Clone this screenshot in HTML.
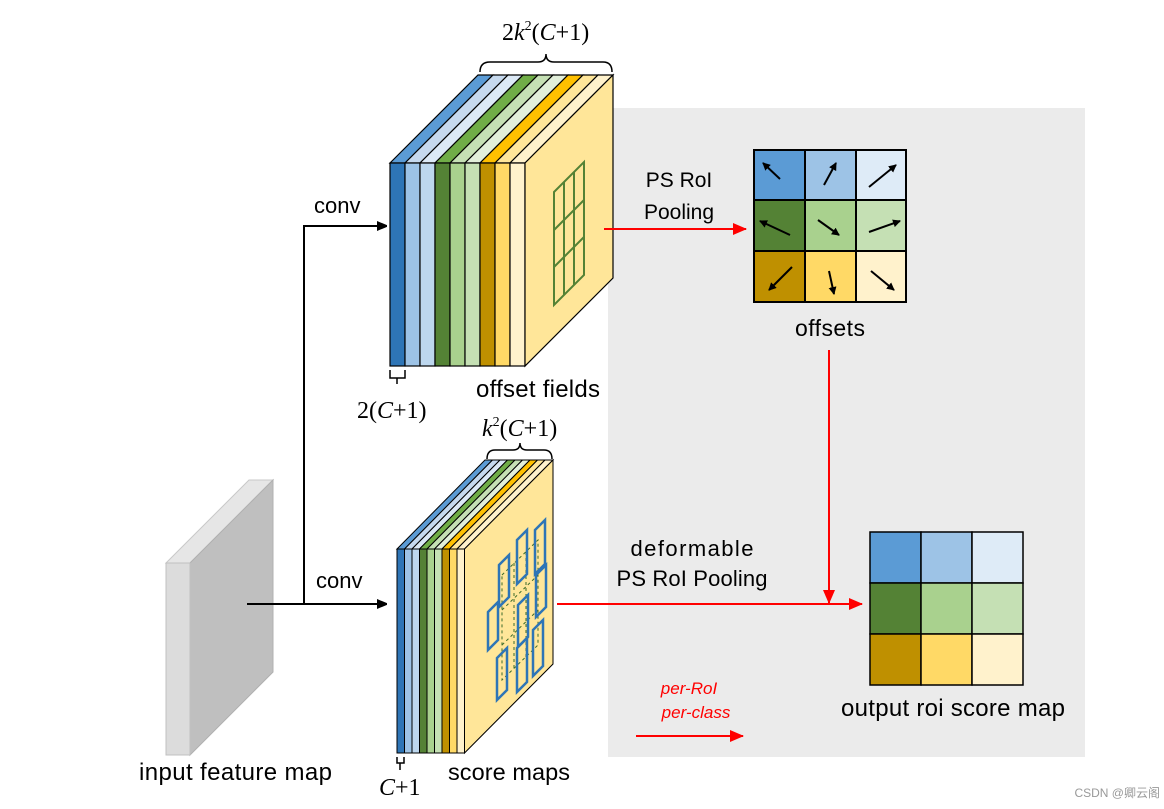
<!DOCTYPE html>
<html><head><meta charset="utf-8"><style>
html,body{margin:0;padding:0;background:#fff}
svg{display:block}
.s{font-family:"Liberation Sans",sans-serif;fill:#000}
.r{font-family:"Liberation Serif",serif;fill:#000}
</style></head><body>
<svg width="1164" height="809" viewBox="0 0 1164 809" xmlns="http://www.w3.org/2000/svg">
<defs>
<marker id="ab" markerWidth="10" markerHeight="10" refX="9" refY="5" orient="auto" markerUnits="userSpaceOnUse"><path d="M0,0 L12,5 L0,10 z" fill="#000"/></marker>
<marker id="ar" markerWidth="14" markerHeight="12" refX="13" refY="6" orient="auto" markerUnits="userSpaceOnUse"><path d="M0,0 L14,6 L0,12 z" fill="#f00"/></marker>
<marker id="as" markerWidth="8" markerHeight="8" refX="7" refY="4" orient="auto" markerUnits="userSpaceOnUse"><path d="M0,0 L8,4 L0,8 z" fill="#000"/></marker>
</defs>
<rect x="608" y="108" width="477" height="649" fill="#ebebeb"/>

<!-- input feature map -->
<polygon points="166,563 249,480 273,480 190,563" fill="#e6e6e6" stroke="#c8c8c8"/>
<polygon points="190,563 273,480 273,672 190,755" fill="#bfbfbf" stroke="#b0b0b0"/>
<rect x="166" y="563" width="24" height="192" fill="#dcdcdc" stroke="#c0c0c0"/>

<!-- black connectors -->
<path d="M247,604 L386,604" stroke="#000" stroke-width="2" fill="none" marker-end="url(#ab)"/>
<path d="M304,604 L304,226 L386,226" stroke="#000" stroke-width="2" fill="none" marker-end="url(#ab)"/>
<text class="s" x="314" y="213" font-size="22">conv</text>
<text class="s" x="316" y="588" font-size="22">conv</text>

<!-- top block -->
<g stroke="#000" stroke-width="1.2">
<polygon points="390,163 478,75 493,75 405,163" fill="#5b9bd5"/>
<polygon points="405,163 493,75 508,75 420,163" fill="#c6d9ee"/>
<polygon points="420,163 508,75 523,75 435,163" fill="#dce9f6"/>
<polygon points="435,163 523,75 538,75 450,163" fill="#70ad47"/>
<polygon points="450,163 538,75 553,75 465,163" fill="#c5e0b4"/>
<polygon points="465,163 553,75 568,75 480,163" fill="#e2efda"/>
<polygon points="480,163 568,75 583,75 495,163" fill="#ffc000"/>
<polygon points="495,163 583,75 598,75 510,163" fill="#ffe699"/>
<polygon points="510,163 598,75 613,75 525,163" fill="#fff2cc"/>
<rect x="390" y="163" width="15" height="203" fill="#2e75b6"/>
<rect x="405" y="163" width="15" height="203" fill="#9dc3e6"/>
<rect x="420" y="163" width="15" height="203" fill="#bdd7ee"/>
<rect x="435" y="163" width="15" height="203" fill="#548235"/>
<rect x="450" y="163" width="15" height="203" fill="#a9d18e"/>
<rect x="465" y="163" width="15" height="203" fill="#c5e0b4"/>
<rect x="480" y="163" width="15" height="203" fill="#bf9000"/>
<rect x="495" y="163" width="15" height="203" fill="#ffd966"/>
<rect x="510" y="163" width="15" height="203" fill="#fff2cc"/>
<polygon points="525,163 613,75 613,278 525,366" fill="#ffe699"/>
</g>
<g stroke="#548235" stroke-width="2" fill="none">
<polygon points="554,192 584,162 584,275 554,305"/>
<line x1="564" y1="182" x2="564" y2="295"/><line x1="574" y1="172" x2="574" y2="285"/>
<line x1="554" y1="230" x2="584" y2="200"/><line x1="554" y1="267" x2="584" y2="237"/>
</g>
<path d="M480,72 Q480,62 490,62 L538,62 Q546,62 546,54 Q546,62 554,62 L603,62 Q612,62 612,72" stroke="#000" stroke-width="1.5" fill="none"/>
<text class="r" x="502" y="40" font-size="24">2<tspan font-style="italic">k</tspan><tspan font-size="14" dy="-10">2</tspan><tspan dy="10">(</tspan><tspan font-style="italic">C</tspan>+1)</text>
<path d="M390,370 L390,378 L405,378 L405,370 M397,378 L397,384" stroke="#000" stroke-width="1.5" fill="none"/>
<text class="r" x="357" y="418" font-size="24">2(<tspan font-style="italic">C</tspan>+1)</text>
<text class="s" x="476" y="397" font-size="24" textLength="124">offset fields</text>

<!-- bottom block -->
<g stroke="#000" stroke-width="1">
<polygon points="397,549 485,460 492.5,460 404.5,549" fill="#5b9bd5"/>
<polygon points="404.5,549 492.5,460 500,460 412,549" fill="#c6d9ee"/>
<polygon points="412,549 500,460 507.5,460 419.5,549" fill="#dce9f6"/>
<polygon points="419.5,549 507.5,460 515,460 427,549" fill="#70ad47"/>
<polygon points="427,549 515,460 522.5,460 434.5,549" fill="#c5e0b4"/>
<polygon points="434.5,549 522.5,460 530,460 442,549" fill="#e2efda"/>
<polygon points="442,549 530,460 537.5,460 449.5,549" fill="#ffc000"/>
<polygon points="449.5,549 537.5,460 545,460 457,549" fill="#ffe699"/>
<polygon points="457,549 545,460 553,460 464.5,549" fill="#fff2cc"/>
<rect x="397" y="549" width="7.5" height="204" fill="#2e75b6"/>
<rect x="404.5" y="549" width="7.5" height="204" fill="#9dc3e6"/>
<rect x="412" y="549" width="7.5" height="204" fill="#bdd7ee"/>
<rect x="419.5" y="549" width="7.5" height="204" fill="#548235"/>
<rect x="427" y="549" width="7.5" height="204" fill="#a9d18e"/>
<rect x="434.5" y="549" width="7.5" height="204" fill="#c5e0b4"/>
<rect x="442" y="549" width="7.5" height="204" fill="#bf9000"/>
<rect x="449.5" y="549" width="7.5" height="204" fill="#ffd966"/>
<rect x="457" y="549" width="7.5" height="204" fill="#fff2cc"/>
<polygon points="464.5,549 553,460 553,664 464.5,753" fill="#ffe699"/>
</g>
<g stroke="#3d6b2a" stroke-width="1" stroke-dasharray="3,3" fill="none">
<polygon points="502,575 538,540 538,645 502,680"/>
<line x1="514" y1="563" x2="514" y2="668"/><line x1="526" y1="552" x2="526" y2="657"/>
<line x1="502" y1="610" x2="538" y2="575"/><line x1="502" y1="645" x2="538" y2="610"/>
</g>
<g stroke="#2e75b6" stroke-width="2.5" fill="none">
<polygon points="499,565 509,555 509,597 499,607"/>
<polygon points="517,540 527,530 527,574 517,584"/>
<polygon points="535,530 545,520 545,564 535,574"/>
<polygon points="488,612 498,602 498,640 488,650"/>
<polygon points="518,605 528,595 528,637 518,647"/>
<polygon points="536,575 546,565 546,607 536,617"/>
<polygon points="497,658 507,648 507,690 497,700"/>
<polygon points="517,648 527,638 527,682 517,692"/>
<polygon points="533,630 543,620 543,666 533,676"/>
</g>
<path d="M487,459 Q487,450 495,450 L513,450 Q520,450 520,443 Q520,450 527,450 L544,450 Q552,450 552,459" stroke="#000" stroke-width="1.5" fill="none"/>
<text class="r" x="482" y="436" font-size="24"><tspan font-style="italic">k</tspan><tspan font-size="14" dy="-10">2</tspan><tspan dy="10">(</tspan><tspan font-style="italic">C</tspan>+1)</text>
<path d="M397,757 L397,763 L404,763 L404,757 M400,763 L400,770" stroke="#000" stroke-width="1.5" fill="none"/>
<text class="r" x="379" y="795" font-size="24"><tspan font-style="italic">C</tspan>+1</text>
<text class="s" x="448" y="780" font-size="23.5" textLength="122">score maps</text>
<text class="s" x="139" y="780" font-size="24" textLength="193">input feature map</text>

<!-- offsets grid -->
<g stroke="#000" stroke-width="2">
<rect x="754" y="150" width="51" height="50" fill="#5b9bd5"/>
<rect x="805" y="150" width="51" height="50" fill="#9dc3e6"/>
<rect x="856" y="150" width="50" height="50" fill="#deebf7"/>
<rect x="754" y="200" width="51" height="51" fill="#548235"/>
<rect x="805" y="200" width="51" height="51" fill="#a9d18e"/>
<rect x="856" y="200" width="50" height="51" fill="#c5e0b4"/>
<rect x="754" y="251" width="51" height="51" fill="#bf9000"/>
<rect x="805" y="251" width="51" height="51" fill="#ffd966"/>
<rect x="856" y="251" width="50" height="51" fill="#fff2cc"/>
</g>
<g stroke="#000" stroke-width="2" marker-end="url(#as)">
<line x1="780" y1="179" x2="763" y2="163"/>
<line x1="824" y1="185" x2="836" y2="163"/>
<line x1="869" y1="187" x2="896" y2="165"/>
<line x1="790" y1="235" x2="760" y2="221"/>
<line x1="818" y1="220" x2="839" y2="235"/>
<line x1="869" y1="232" x2="900" y2="221"/>
<line x1="792" y1="267" x2="769" y2="290"/>
<line x1="829" y1="271" x2="834" y2="294"/>
<line x1="871" y1="271" x2="894" y2="290"/>
</g>
<text class="s" x="830" y="336" font-size="23" text-anchor="middle" textLength="70">offsets</text>
<text class="s" x="679" y="187" font-size="21" text-anchor="middle">PS RoI</text>
<text class="s" x="679" y="219" font-size="21" text-anchor="middle">Pooling</text>

<!-- output grid -->
<g stroke="#000" stroke-width="1.5">
<rect x="870" y="532" width="51" height="51" fill="#5b9bd5"/>
<rect x="921" y="532" width="51" height="51" fill="#9dc3e6"/>
<rect x="972" y="532" width="51" height="51" fill="#deebf7"/>
<rect x="870" y="583" width="51" height="51" fill="#548235"/>
<rect x="921" y="583" width="51" height="51" fill="#a9d18e"/>
<rect x="972" y="583" width="51" height="51" fill="#c5e0b4"/>
<rect x="870" y="634" width="51" height="51" fill="#bf9000"/>
<rect x="921" y="634" width="51" height="51" fill="#ffd966"/>
<rect x="972" y="634" width="51" height="51" fill="#fff2cc"/>
</g>
<text class="s" x="953" y="716" font-size="24" text-anchor="middle" textLength="224">output roi score map</text>
<text class="s" x="692" y="556" font-size="22" text-anchor="middle" textLength="123">deformable</text>
<text class="s" x="692" y="586" font-size="22" text-anchor="middle" textLength="151">PS RoI Pooling</text>

<!-- red arrows -->
<g stroke="#f00" stroke-width="2" fill="none">
<line x1="604" y1="229" x2="746" y2="229" marker-end="url(#ar)"/>
<line x1="829" y1="350" x2="829" y2="603" marker-end="url(#ar)"/>
<line x1="557" y1="604" x2="862" y2="604" marker-end="url(#ar)"/>
<line x1="636" y1="736" x2="743" y2="736" marker-end="url(#ar)"/>
</g>
<text class="s" x="689" y="694" font-size="17" font-style="italic" text-anchor="middle" style="fill:#f00">per-RoI</text>
<text class="s" x="696" y="718" font-size="17" font-style="italic" text-anchor="middle" style="fill:#f00">per-class</text>

<text x="1160" y="797" font-family="Liberation Sans, Noto Sans CJK SC, sans-serif" font-size="12" fill="#999" text-anchor="end">CSDN @卿云阁</text>
</svg>
</body></html>
